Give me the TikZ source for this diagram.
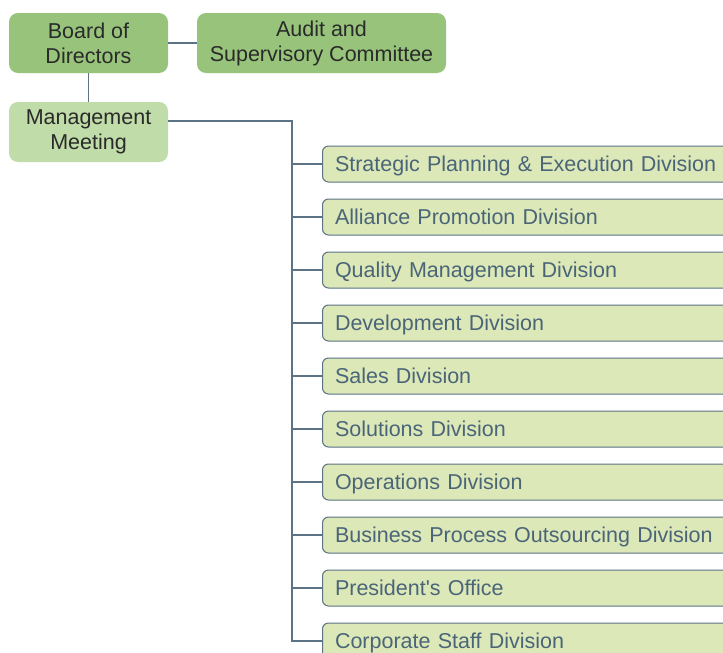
\documentclass[tikz,border=0pt]{standalone}
\usepackage{fontspec}
\setmainfont{Liberation Sans}[Ligatures=TeXOff]
\definecolor{topg}{HTML}{97C47A}
\definecolor{midg}{HTML}{C0DCA8}
\definecolor{divg}{HTML}{DCE8B8}
\definecolor{linec}{HTML}{5B7385}
\definecolor{divtxt}{HTML}{4A6578}
\definecolor{toptxt}{HTML}{2A2A2A}
\tikzset{
  topbox/.style={fill=topg, draw=none, rounded corners=9pt, text=toptxt, align=center,
    font=\fontsize{21.5}{25}\selectfont, inner sep=0pt},
  midbox/.style={topbox, fill=midg},
  divbox/.style={fill=divg, draw=linec, line width=1pt, rounded corners=6pt, anchor=west,
    text=divtxt, text width=396pt, align=left, inner xsep=12.5pt, inner ysep=0pt,
    text height=19pt, text depth=4pt,
    minimum height=36pt, font=\fontsize{21.5}{25}\selectfont},
  conn/.style={draw=linec, line width=1.1pt}
}
\begin{document}
\begin{tikzpicture}[x=1pt,y=-1pt]
\clip (0,0) rectangle (723,653);
\fill[white] (0,0) rectangle (723,653);
\node[topbox, minimum width=159pt, minimum height=60pt] (bod) at (88.5,43) {Board of\\Directors};
\node[topbox, minimum width=249pt, minimum height=60pt] (asc) at (321.5,43) {Audit and\\Supervisory Committee};
\node[midbox, minimum width=159pt, minimum height=60pt] (mm) at (88.5,132) {Management\\Meeting};
\draw[conn] (bod.east) -- (asc.west);
\draw[conn] (bod.south) -- (mm.north);
\node[divbox] (d1) at (322,164) {Strategic Planning \& Execution Division};
\node[divbox] (d2) at (322,217) {Alliance Promotion Division};
\node[divbox] (d3) at (322,270) {Quality Management Division};
\node[divbox] (d4) at (322,323) {Development Division};
\node[divbox] (d5) at (322,376) {Sales Division};
\node[divbox] (d6) at (322,429) {Solutions Division};
\node[divbox] (d7) at (322,482) {Operations Division};
\node[divbox] (d8) at (322,535) {Business Process Outsourcing Division};
\node[divbox] (d9) at (322,588) {President's Office};
\node[divbox] (d10) at (322,641) {Corporate Staff Division};
\draw[conn] ([yshift=11pt]mm.east) -| ([xshift=-30pt]d10.west) -- (d10.west);
\foreach \d in {d1,d2,d3,d4,d5,d6,d7,d8,d9}
  \draw[conn] ([xshift=-30pt]\d.west) -- (\d.west);
\end{tikzpicture}
\end{document}
